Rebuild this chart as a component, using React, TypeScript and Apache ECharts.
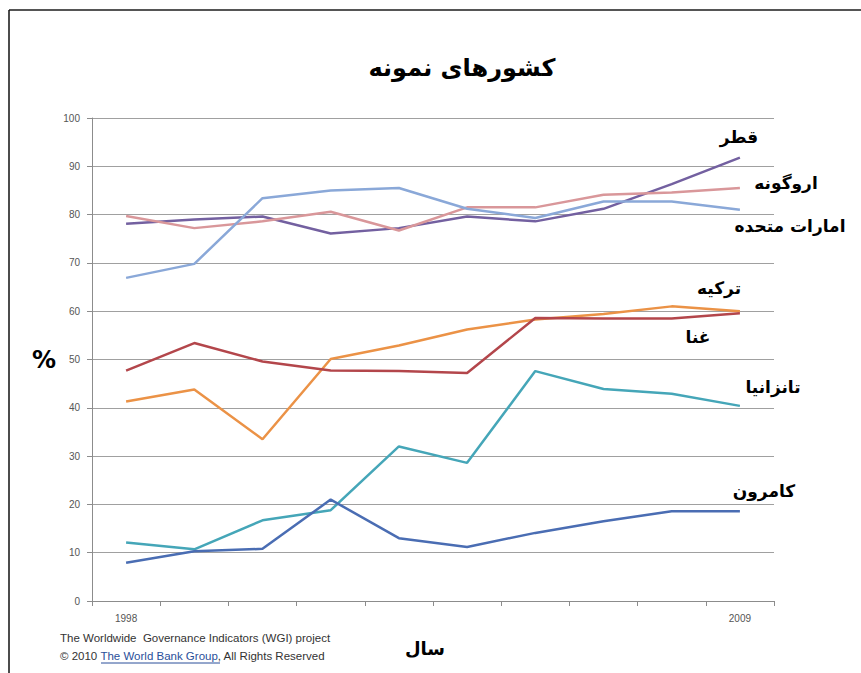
import React, { useEffect, useRef } from "react";
import * as echarts from "echarts";

const years = ["1998", "2000", "2002", "2003", "2004", "2005", "2006", "2007", "2008", "2009"];
const qatar = [78.1, 79.0, 79.6, 76.1, 77.2, 79.6, 78.6, 81.2, 86.3, 91.8];
const uruguay = [79.7, 77.2, 78.6, 80.6, 76.7, 81.5, 81.5, 84.1, 84.6, 85.5];
const uae = [66.9, 69.8, 83.4, 85.0, 85.5, 81.2, 79.3, 82.7, 82.7, 81.0];
const turkey = [41.3, 43.8, 33.5, 50.1, 52.9, 56.2, 58.3, 59.4, 61.0, 60.0];
const ghana = [47.7, 53.4, 49.6, 47.7, 47.6, 47.2, 58.6, 58.5, 58.5, 59.6];
const tanzania = [12.1, 10.7, 16.7, 18.8, 32.0, 28.6, 47.6, 43.9, 42.9, 40.4];
const cameroon = [7.9, 10.3, 10.8, 21.0, 13.0, 11.2, 14.1, 16.5, 18.6, 18.6];

const seriesDefs = [
  { name: "قطر", data: qatar, color: "#7360a0" },
  { name: "اروگونه", data: uruguay, color: "#d9979a" },
  { name: "امارات متحده", data: uae, color: "#8aa8d8" },
  { name: "ترکیه", data: turkey, color: "#eb9246" },
  { name: "غنا", data: ghana, color: "#b3464b" },
  { name: "تانزانیا", data: tanzania, color: "#45a6b8" },
  { name: "کامرون", data: cameroon, color: "#4a6db3" },
];

const labelPos: [string, number, number][] = [
  ["قطر", 739, 137],
  ["اروگونه", 786, 183],
  ["امارات متحده", 790, 226],
  ["ترکیه", 719, 288],
  ["غنا", 698, 337],
  ["تانزانیا", 773, 387],
  ["کامرون", 764, 491],
];

const FA = "DejaVu Sans";

export default function App() {
  const ref = useRef<HTMLDivElement>(null);
  useEffect(() => {
    document.body.style.margin = "0";
    const chart = echarts.init(ref.current!, null, { renderer: "svg" });
    const grey = "#8c8c8c";
    chart.setOption({
      animation: false,
      backgroundColor: "#ffffff",
      grid: { left: 92, right: 87, top: 118, bottom: 72, containLabel: false },
      xAxis: {
        type: "category",
        data: years,
        boundaryGap: true,
        axisLine: { show: true, lineStyle: { color: grey, width: 1 } },
        axisTick: { show: true, interval: 0, length: 5, lineStyle: { color: grey } },
        axisLabel: {
          interval: (i: number) => i === 0 || i === years.length - 1,
          color: "#555",
          fontSize: 10,
          margin: 12,
          fontFamily: "Liberation Sans",
        },
        splitLine: { show: false },
      },
      yAxis: {
        type: "value",
        min: 0,
        max: 100,
        interval: 10,
        axisLine: { show: true, lineStyle: { color: grey, width: 1 } },
        axisTick: { show: true, length: 5, lineStyle: { color: grey } },
        axisLabel: { color: "#555", fontSize: 10, margin: 12, fontFamily: "Liberation Sans" },
        splitLine: { show: true, lineStyle: { color: "#a0a0a0", width: 1 } },
      },
      series: seriesDefs.map((s) => ({
        name: s.name,
        type: "line",
        data: s.data,
        symbol: "none",
        smooth: false,
        lineStyle: { color: s.color, width: 2.5 },
        itemStyle: { color: s.color },
      })),
      graphic: [
        { type: "line", shape: { x1: 9, y1: 10, x2: 861, y2: 10 }, style: { stroke: "#555", lineWidth: 2 } },
        { type: "line", shape: { x1: 9, y1: 10, x2: 9, y2: 673 }, style: { stroke: "#111", lineWidth: 1.5 } },
        {
          type: "text",
          x: 462,
          y: 68,
          style: {
            text: "کشورهای نمونه",
            fill: "#000",
            fontSize: 24,
            fontWeight: "bold",
            fontFamily: FA,
            textAlign: "center",
            textVerticalAlign: "middle",
          },
        },
        {
          type: "text",
          x: 44,
          y: 360,
          style: {
            text: "%",
            fill: "#000",
            fontSize: 24,
            fontWeight: "bold",
            fontFamily: FA,
            textAlign: "center",
            textVerticalAlign: "middle",
          },
        },
        {
          type: "text",
          x: 425,
          y: 648,
          style: {
            text: "سال",
            fill: "#000",
            fontSize: 18,
            fontWeight: "bold",
            fontFamily: FA,
            textAlign: "center",
            textVerticalAlign: "middle",
          },
        },
        ...labelPos.map(([t, x, y]) => ({
          type: "text",
          x,
          y,
          style: {
            text: t,
            fill: "#000",
            fontSize: 17,
            fontWeight: "bold",
            fontFamily: FA,
            textAlign: "center",
            textVerticalAlign: "middle",
          },
        })),
        {
          type: "text",
          x: 60,
          y: 638,
          style: {
            text: "The Worldwide  Governance Indicators (WGI) project",
            fill: "#333",
            fontSize: 11.5,
            fontFamily: "Liberation Sans",
            textAlign: "left",
            textVerticalAlign: "middle",
          },
        },
        {
          type: "text",
          x: 60,
          y: 656,
          style: {
            text: "© 2010 {l|The World Bank Group}, All Rights Reserved",
            fill: "#333",
            fontSize: 11.5,
            fontFamily: "Liberation Sans",
            textAlign: "left",
            textVerticalAlign: "middle",
            rich: { l: { fill: "#2a4f9a", fontSize: 11.5, fontFamily: "Liberation Sans" } },
          },
        },
        { type: "line", shape: { x1: 101, y1: 663, x2: 220, y2: 663 }, style: { stroke: "#2a4f9a", lineWidth: 1 } },
      ],
    });
    return () => chart.dispose();
  }, []);
  return <div ref={ref} style={{ width: 861, height: 673 }} />;
}
